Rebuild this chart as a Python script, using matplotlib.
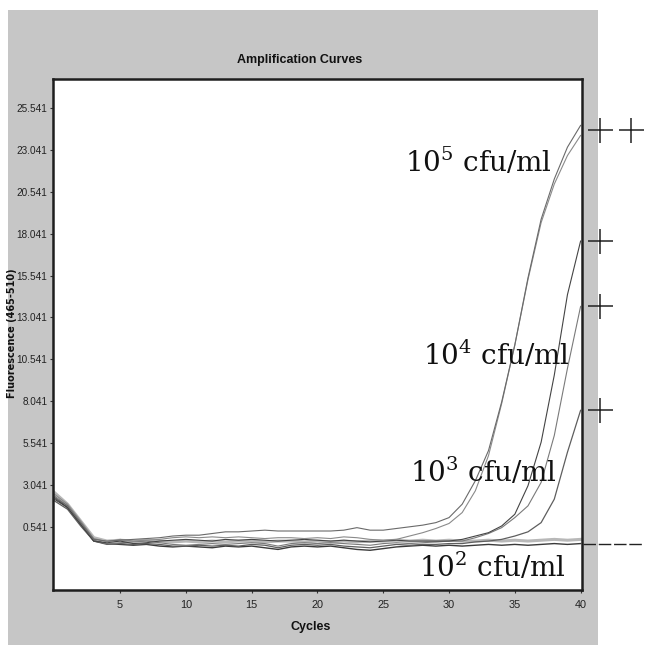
import numpy as np
import matplotlib.pyplot as plt
from matplotlib.patches import Rectangle
from matplotlib.lines import Line2D
from matplotlib.transforms import blended_transform_factory

plt.rcParams['mathtext.fontset'] = 'dejavuserif'

# real-time PCR run, fluorescence (465-510) per cycle
cycles = np.arange(0, 41)
s5a = [2.3, 1.8, 0.8, -0.2, -0.3, -0.25, -0.2, -0.15, -0.1, 0.0, 0.05, 0.05, 0.15, 0.25, 0.25,
       0.3, 0.35, 0.3, 0.3, 0.3, 0.3, 0.3, 0.35, 0.5, 0.35, 0.35, 0.45, 0.55, 0.65, 0.8, 1.1,
       1.9, 3.3, 5.1, 8.0, 11.4, 15.4, 18.9, 21.3, 23.2, 24.5]
s5b = [2.5, 1.9, 0.9, -0.15, -0.35, -0.2, -0.3, -0.25, -0.2, -0.1, -0.05, -0.1, -0.05, -0.1, -0.05,
       -0.1, -0.15, -0.1, -0.1, -0.15, -0.1, -0.15, -0.05, -0.1, -0.2, -0.25, -0.2, 0.0, 0.2, 0.45, 0.75,
       1.4, 2.7, 4.8, 7.9, 11.4, 15.3, 18.7, 21.0, 22.7, 23.9]
s4a = [2.2, 1.7, 0.7, -0.3, -0.4, -0.3, -0.45, -0.4, -0.3, -0.25, -0.2, -0.25, -0.3, -0.2, -0.25,
       -0.2, -0.25, -0.3, -0.25, -0.2, -0.25, -0.3, -0.25, -0.3, -0.35, -0.3, -0.25, -0.3, -0.3, -0.3, -0.3,
       -0.2, 0.0, 0.2, 0.6, 1.3, 3.0, 5.6, 9.6, 14.4, 17.6]
s4b = [2.4, 1.8, 0.8, -0.25, -0.45, -0.4, -0.35, -0.3, -0.4, -0.5, -0.55, -0.5, -0.45, -0.5, -0.45,
       -0.4, -0.45, -0.6, -0.45, -0.4, -0.45, -0.4, -0.45, -0.5, -0.55, -0.45, -0.4, -0.45, -0.4, -0.35, -0.3,
       -0.3, -0.1, 0.15, 0.5, 1.1, 1.8, 3.2, 6.0, 10.0, 13.7]
s3 = [2.1, 1.6, 0.6, -0.3, -0.5, -0.45, -0.5, -0.45, -0.5, -0.6, -0.6, -0.55, -0.6, -0.55, -0.6,
      -0.5, -0.55, -0.7, -0.55, -0.5, -0.55, -0.5, -0.6, -0.65, -0.7, -0.6, -0.5, -0.55, -0.5, -0.5, -0.45,
      -0.45, -0.35, -0.3, -0.2, 0.0, 0.25, 0.8, 2.2, 5.0, 7.5]
s2a = [2.6, 1.9, 0.9, -0.1, -0.3, -0.25, -0.3, -0.25, -0.3, -0.35, -0.3, -0.35, -0.3, -0.35, -0.3,
       -0.3, -0.35, -0.3, -0.3, -0.35, -0.3, -0.35, -0.3, -0.35, -0.3, -0.3, -0.25, -0.3, -0.25, -0.3, -0.25,
       -0.3, -0.3, -0.25, -0.3, -0.25, -0.3, -0.25, -0.2, -0.25, -0.2]
s2b = [2.3, 1.7, 0.7, -0.3, -0.45, -0.5, -0.55, -0.5, -0.6, -0.65, -0.6, -0.65, -0.7, -0.6, -0.65,
       -0.6, -0.7, -0.8, -0.65, -0.6, -0.65, -0.6, -0.7, -0.8, -0.85, -0.75, -0.65, -0.6, -0.55, -0.6, -0.55,
       -0.6, -0.55, -0.5, -0.55, -0.5, -0.55, -0.5, -0.45, -0.5, -0.45]

yticks = [0.541 + 2.5 * k for k in range(11)]
xticks = [5, 10, 15, 20, 25, 30, 35, 40]

# concentration labels: text, right edge (cycle), height (fluorescence)
conc_labels = ['10$^5$ cfu/ml', '10$^4$ cfu/ml', '10$^3$ cfu/ml', '10$^2$ cfu/ml']
conc_x = [37.8, 39.2, 38.2, 38.9]
conc_y = [22.3, 10.8, 3.8, -1.9]

# result marks next to each curve end
marks = ['++', '+', '+', '+', '-']
mark_y = [np.mean([s5a[-1], s5b[-1]]), s4a[-1], s4b[-1], s3[-1], s2b[-1]]

fig = plt.figure(figsize=(6.45, 6.51), dpi=100)
fig.patch.set_facecolor('white')
fig.add_artist(Rectangle((0.0124, 0.0092), 0.915, 0.975, transform=fig.transFigure,
                         facecolor='#c6c6c6', edgecolor='none', zorder=0))

ax = fig.add_axes([0.0822, 0.0937, 0.820, 0.785])
ax.set_facecolor('white')

ax.plot(cycles, s2a, color='#b8b8b8', lw=2.2)
ax.plot(cycles, s2b, color='#3a3a3a', lw=1.0)
ax.plot(cycles, s3, color='#5e5e5e', lw=0.9)
ax.plot(cycles, s4b, color='#7a7a7a', lw=0.8)
ax.plot(cycles, s4a, color='#444444', lw=0.8)
ax.plot(cycles, s5b, color='#8a8a8a', lw=0.8)
ax.plot(cycles, s5a, color='#6a6a6a', lw=0.8)

ax.set_xlim(-0.1, 40.1)
ax.set_ylim(-3.22, 27.27)
ax.set_xticks(xticks)
ax.set_yticks(yticks)
ax.set_yticklabels([f'{v:.3f}' for v in yticks])

for lab in ax.get_xticklabels() + ax.get_yticklabels():
    lab.set_family('Liberation Sans')
    lab.set_fontsize(7.2)
    lab.set_color('#222222')
for lab in ax.get_xticklabels():
    lab.set_fontsize(7.8)
ax.tick_params(direction='out', length=2.5, width=0.8, color='#333333', pad=1.5)
ax.tick_params(axis='x', pad=5)
for sp in ax.spines.values():
    sp.set_linewidth(1.8)
    sp.set_color('#1e1e1e')

fig.text(0.465, 0.908, 'Amplification Curves', ha='center', va='center',
         fontsize=9, fontweight='bold', family='Liberation Sans', color='#111111')
fig.text(0.482, 0.037, 'Cycles', ha='center', va='center',
         fontsize=9, fontweight='bold', family='Liberation Sans', color='#111111')
fig.text(0.019, 0.488, 'Fluorescence (465-510)', ha='center', va='center', rotation=90,
         fontsize=7, fontweight='bold', color='#111111')

for txt, x, y in zip(conc_labels, conc_x, conc_y):
    ax.text(x, y, txt, ha='right', va='center', fontsize=20,
            family='DejaVu Serif', color='#111111')

# "+" / "-" marks sit to the right of the frame, level with the curve ends
trans = blended_transform_factory(fig.transFigure, ax.transData)
for m, y in zip(marks, mark_y):
    if m == '-':
        fig.add_artist(Line2D([0.904, 0.997], [y, y], transform=trans, color='#222222',
                              lw=1.0, dashes=(9, 2)))
    else:
        for i in range(len(m)):
            fig.add_artist(Line2D([0.931 + 0.048 * i], [y], transform=trans, marker='+',
                                  markersize=18, mew=1.1, color='#222222', linestyle='none'))

fig.savefig('out.png', dpi=100)
